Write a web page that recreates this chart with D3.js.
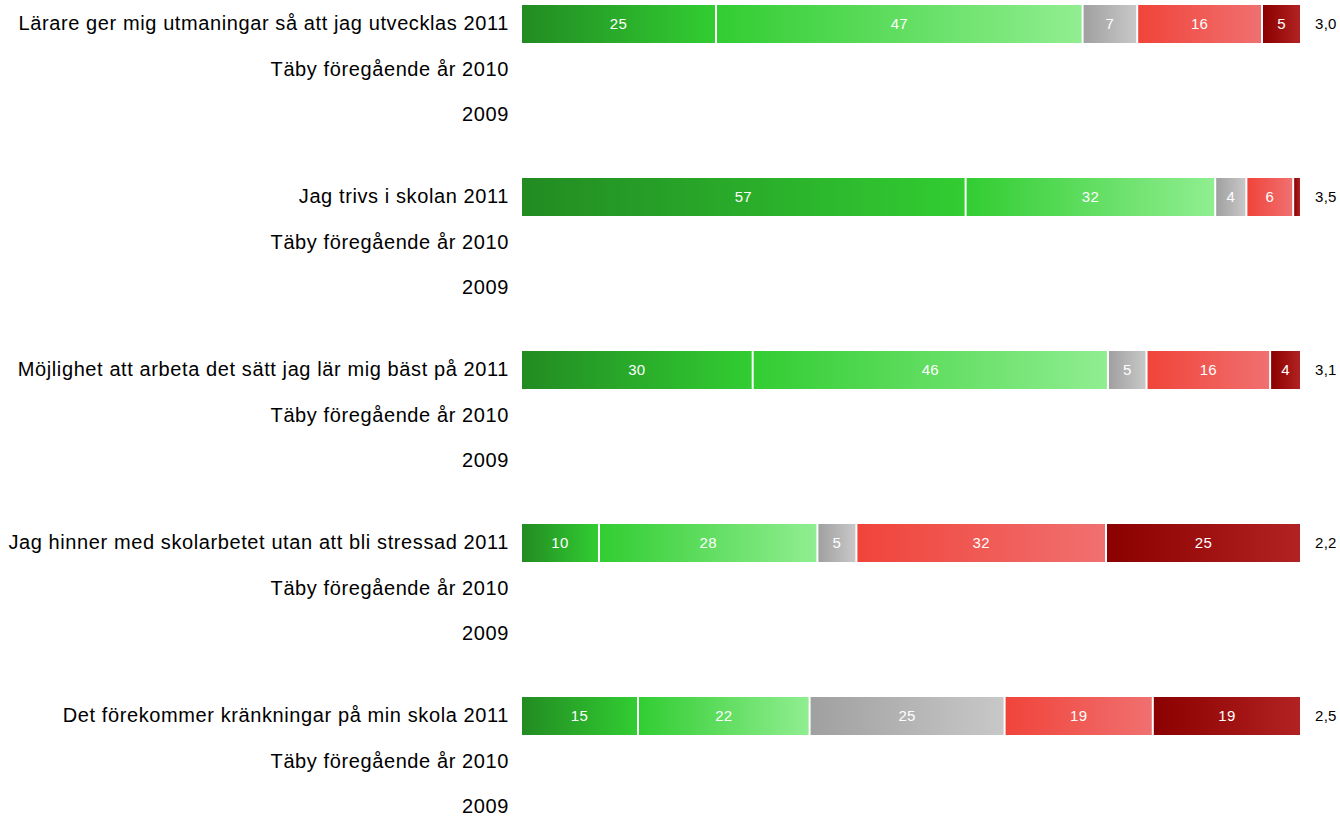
<!DOCTYPE html>
<html>
<head>
<meta charset="utf-8">
<script src="https://cdn.jsdelivr.net/npm/d3@7"></script>
<style>
  body { margin: 0; background: #fff; }
  text { font-family: "Liberation Sans", Arial, sans-serif; }
</style>
</head>
<body>
<div id="chart"></div>
<script>
var width = 1340,
    height = 816;

// data
var questions = [
    "Lärare ger mig utmaningar så att jag utvecklas",
    "Jag trivs i skolan",
    "Möjlighet att arbeta det sätt jag lär mig bäst på",
    "Jag hinner med skolarbetet utan att bli stressad",
    "Det förekommer kränkningar på min skola"
];
var years = ["2011", "Täby föregående år 2010", "2009"];
var categories = ["Stämmer helt", "Stämmer ganska bra", "Vet ej", "Stämmer ganska dåligt", "Stämmer inte alls"];
var values2011 = [
    [25, 47, 7, 16, 5],
    [57, 32, 4, 6, 1],
    [30, 46, 5, 16, 4],
    [10, 28, 5, 32, 25],
    [15, 22, 25, 19, 19]
];
var means = ["3,0", "3,5", "3,1", "2,2", "2,5"];
var gradStops = [
    ["#228b22", "#32cd32"],
    ["#32cd32", "#90ee90"],
    ["#a0a0a0", "#c8c8c8"],
    ["#f0443a", "#f07070"],
    ["#8b0000", "#b22222"]
];

var svg = d3.select("#chart").append("svg")
    .attr("width", width)
    .attr("height", height);

var defs = svg.append("defs");
gradStops.forEach(function (s, i) {
    var lg = defs.append("linearGradient")
        .attr("id", "grad" + i)
        .attr("x1", "0%").attr("x2", "100%")
        .attr("y1", "0%").attr("y2", "0%");
    lg.append("stop").attr("offset", "0%").attr("stop-color", s[0]);
    lg.append("stop").attr("offset", "100%").attr("stop-color", s[1]);
});

var groupY = d3.scaleBand()
    .domain(questions)
    .range([24, 24 + 173 * questions.length]);
var rowY = d3.scalePoint()
    .domain(years)
    .range([0, 91]);

var barH = 38;

questions.forEach(function (q, qi) {
    var g = svg.append("g")
        .attr("transform", "translate(0," + groupY(q) + ")");

    g.selectAll("text.label")
        .data(years)
        .enter().append("text")
        .attr("class", "label")
        .attr("x", 509)
        .attr("y", function (d) { return rowY(d); })
        .attr("dy", ".3em")
        .attr("text-anchor", "end")
        .attr("font-size", "20px")
        .attr("letter-spacing", "0.6px")
        .attr("fill", "#000")
        .text(function (d, i) { return i === 0 ? q + " " + d : d; });

    var vals = values2011[qi];
    var total = d3.sum(vals);
    var x = d3.scaleLinear().domain([0, total]).range([521, 1301]);
    var cum = 0;
    var segs = vals.map(function (v, i) {
        var s = { v: v, i: i, x0: cum, x1: cum + v };
        cum += v;
        return s;
    });

    var seg = g.selectAll("g.seg")
        .data(segs)
        .enter().append("g")
        .attr("class", "seg");

    seg.append("rect")
        .attr("x", function (d) { return x(d.x0) + 1; })
        .attr("y", -barH / 2)
        .attr("width", function (d) { return Math.max(0, x(d.x1) - x(d.x0) - 2); })
        .attr("height", barH)
        .style("fill", function (d) { return "url(#grad" + d.i + ")"; });

    seg.filter(function (d) { return d.v >= 3; })
        .append("text")
        .attr("x", function (d) { return (x(d.x0) + x(d.x1)) / 2; })
        .attr("y", 0)
        .attr("dy", ".35em")
        .attr("text-anchor", "middle")
        .attr("font-size", "15px")
        .attr("letter-spacing", "0.3px")
        .attr("fill", "#fff")
        .text(function (d) { return d.v; });

    g.append("text")
        .attr("x", 1315)
        .attr("y", 0)
        .attr("dy", ".35em")
        .attr("font-size", "15px")
        .attr("letter-spacing", "0.3px")
        .attr("fill", "#000")
        .text(means[qi]);
});
</script>
</body>
</html>
